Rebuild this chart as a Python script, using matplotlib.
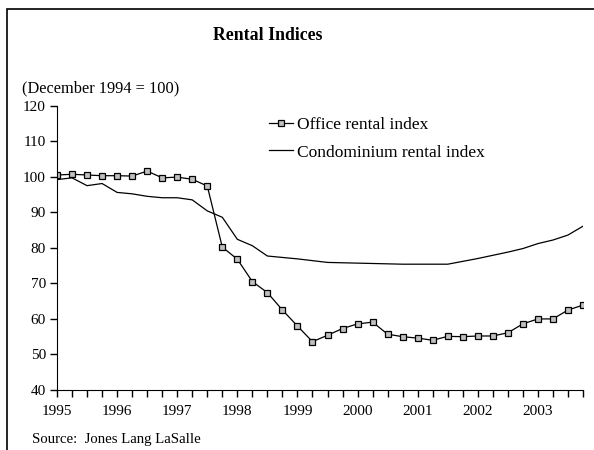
import numpy as np
import matplotlib.pyplot as plt
from matplotlib.patches import Rectangle

plt.rcParams['font.family'] = ['Liberation Serif', 'DejaVu Serif']

years = ['1995', '1996', '1997', '1998', '1999', '2000', '2001', '2002', '2003']
office = [100.5, 100.7, 100.5, 100.3, 100.3, 100.2, 101.6, 99.7, 99.9, 99.3, 97.4, 80.2,
          76.8, 70.5, 67.4, 62.5, 58.0, 53.6, 55.4, 57.3, 58.6, 59.1, 55.7, 55.0,
          54.6, 54.0, 55.1, 55.0, 55.2, 55.2, 56.1, 58.6, 60.0, 60.0, 62.5, 63.9]
condo = [99.2, 99.7, 97.5, 98.1, 95.6, 95.2, 94.5, 94.1, 94.1, 93.5, 90.4, 88.6,
         82.4, 80.6, 77.7, 77.3, 76.9, 76.4, 75.9, 75.8, 75.7, 75.6, 75.5, 75.4,
         75.4, 75.4, 75.4, 76.2, 77.0, 77.9, 78.8, 79.8, 81.2, 82.2, 83.6, 86.1]

x = np.arange(len(office))

fig = plt.figure(figsize=(5.94, 4.5), dpi=100)
# outer frame
fig.patches.append(Rectangle((7/594, -0.1), 1.2, (450-9)/450 + 0.1, transform=fig.transFigure,
                             fill=False, edgecolor='black', linewidth=1.2))

ax = fig.add_axes([57/594, (450-390)/450, (583-57)/594, (390-105.7)/450])
ax.plot(x, office, color='black', linewidth=0.9, marker='s', markersize=4.6,
        markerfacecolor='#c0c0c0', markeredgecolor='black', markeredgewidth=0.9,
        label='Office rental index')
ax.plot(x, condo, color='black', linewidth=0.9, label='Condominium rental index')

ax.set_xlim(0, len(office) - 1)
ax.set_ylim(40, 120)
ax.set_yticks(range(40, 121, 10))
ax.set_xticks(x, minor=True)
ax.set_xticks(x[::4])
ax.set_xticklabels(years)
for s in ['top', 'right']:
    ax.spines[s].set_visible(False)
ax.tick_params(axis='both', direction='out', length=5, width=1, labelsize=11, pad=3)
ax.tick_params(axis='x', which='minor', direction='out', length=5, width=1)
ax.tick_params(axis='x', pad=6)

ax.legend(loc='upper left', bbox_to_anchor=((262-57)/526, 1.0 - (110-105.7)/284),
          frameon=False, fontsize=12.5, handlelength=1.4, handletextpad=0.2,
          labelspacing=0.65, borderaxespad=0)

fig.text(268/594, 1 - 36/450, 'Rental Indices', ha='center', va='center',
         fontsize=12.8, fontweight='bold')
fig.text(22/594, 1 - 88/450, '(December 1994 = 100)', ha='left', va='center', fontsize=11.8)
fig.text(32/594, 1 - 440/450, 'Source:  Jones Lang LaSalle', ha='left', va='center', fontsize=10.6)

fig.savefig('out.png', dpi=100)
